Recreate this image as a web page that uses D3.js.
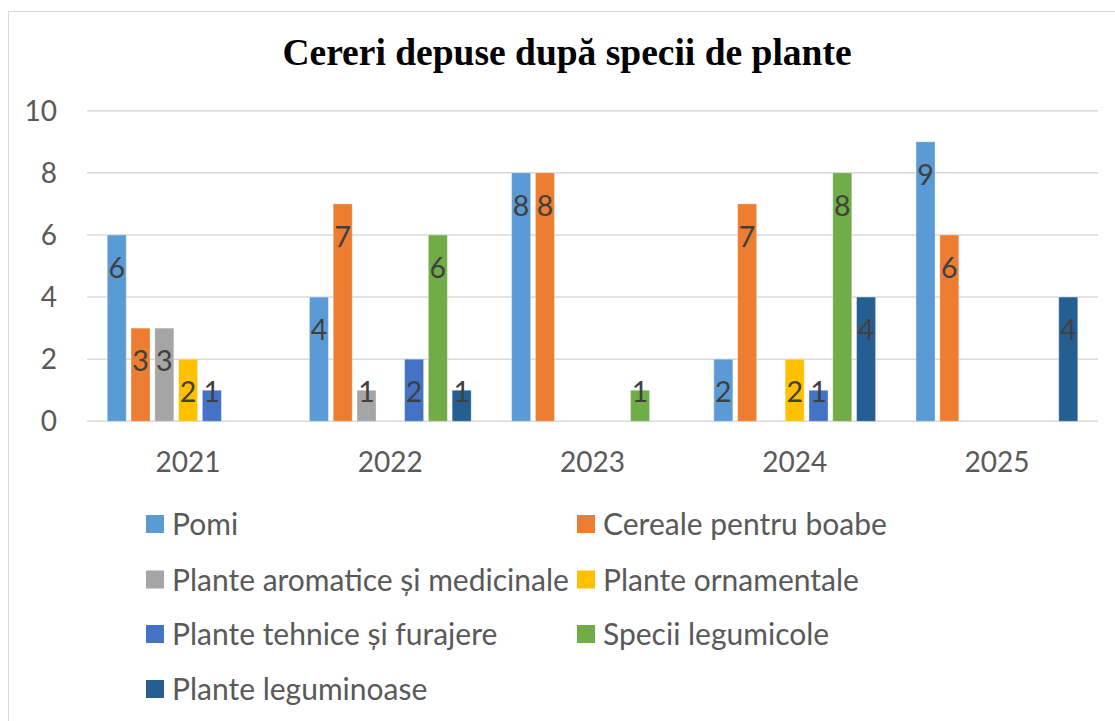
<!DOCTYPE html>
<html>
<head>
<meta charset="utf-8">
<script src="https://cdn.jsdelivr.net/npm/d3@7"></script>
<style>
  html, body { margin: 0; padding: 0; background: #ffffff; }
  svg { display: block; }
</style>
</head>
<body>
<svg id="chart" width="1115" height="721"></svg>
<script>
const title = "Cereri depuse după specii de plante";
const years = ["2021", "2022", "2023", "2024", "2025"];
const seriesNames = [
  "Pomi",
  "Cereale pentru boabe",
  "Plante aromatice și medicinale",
  "Plante ornamentale",
  "Plante tehnice și furajere",
  "Specii legumicole",
  "Plante leguminoase"
];
const seriesColors = ["#5B9BD5", "#ED7D31", "#A5A5A5", "#FFC000", "#4472C4", "#70AD47", "#255E91"];
const pomi        = [6, 4, 8, 2, 9];
const cereale     = [3, 7, 8, 7, 6];
const aromatice   = [3, 1, 0, 0, 0];
const ornamentale = [2, 0, 0, 2, 0];
const tehnice     = [1, 2, 0, 1, 0];
const legumicole  = [0, 6, 1, 8, 0];
const leguminoase = [0, 1, 0, 4, 4];
const yTicks = [0, 2, 4, 6, 8, 10];

const seriesValues = [pomi, cereale, aromatice, ornamentale, tehnice, legumicole, leguminoase];

const svg = d3.select("#chart");
const font = "Lato, 'Open Sans', sans-serif";

// chart border (extends beyond right/bottom edge as in reference)
svg.append("rect")
  .attr("x", 8.5).attr("y", 11.5)
  .attr("width", 1130).attr("height", 730)
  .attr("fill", "#ffffff")
  .attr("stroke", "#d9d9d9").attr("stroke-width", 1);

// title
svg.append("text")
  .attr("x", 567).attr("y", 65)
  .attr("text-anchor", "middle")
  .attr("font-family", "'Liberation Serif', 'Times New Roman', serif")
  .attr("font-weight", "bold")
  .attr("font-size", 37.5)
  .attr("fill", "#000000")
  .text(title);

const plot = { left: 87, right: 1098, top: 110.7, bottom: 421.3 };

const y = d3.scaleLinear().domain([0, 10]).range([plot.bottom, plot.top]);
const x0 = d3.scaleBand().domain(years).range([plot.left, plot.right]).padding(0);
const x1 = d3.scaleBand().domain(seriesNames).range([0, x0.bandwidth()])
  .paddingInner(0.2).paddingOuter(0.85);

// gridlines
svg.append("g").selectAll("line")
  .data(yTicks)
  .join("line")
  .attr("x1", plot.left).attr("x2", plot.right)
  .attr("y1", d => y(d)).attr("y2", d => y(d))
  .attr("stroke", "#d9d9d9").attr("stroke-width", 1.5);

// y axis labels
svg.append("g").selectAll("text")
  .data(yTicks)
  .join("text")
  .attr("x", 57).attr("y", d => y(d) + 10)
  .attr("text-anchor", "end")
  .attr("font-family", font).attr("font-size", 28)
  .attr("fill", "#595959")
  .text(d => d);

// x axis labels
svg.append("g").selectAll("text")
  .data(years)
  .join("text")
  .attr("x", d => x0(d) + x0.bandwidth() / 2)
  .attr("y", 472)
  .attr("text-anchor", "middle")
  .attr("font-family", font).attr("font-size", 28)
  .attr("fill", "#595959")
  .text(d => d);

// bars
const flat = [];
years.forEach((yr, i) => {
  seriesNames.forEach((s, j) => {
    const v = seriesValues[j][i];
    if (v > 0) flat.push({ year: yr, series: s, value: v, color: seriesColors[j] });
  });
});

svg.append("g").selectAll("rect")
  .data(flat)
  .join("rect")
  .attr("x", d => x0(d.year) + x1(d.series))
  .attr("y", d => y(d.value))
  .attr("width", x1.bandwidth())
  .attr("height", d => y(0) - y(d.value))
  .attr("fill", d => d.color)
  .attr("stroke", "#ffffff").attr("stroke-opacity", 0.35).attr("stroke-width", 1);

// data labels (inside end)
svg.append("g").selectAll("text")
  .data(flat)
  .join("text")
  .attr("x", d => x0(d.year) + x1(d.series) + x1.bandwidth() / 2)
  .attr("y", d => Math.min(y(d.value) + 33, y(0) - 29) + 10)
  .attr("text-anchor", "middle")
  .attr("font-family", font).attr("font-size", 28.5)
  .attr("fill", "#404040")
  .text(d => d.value);

// legend
const legendCols = [146, 577];
const legendRows = [524, 579.5, 634, 689];
const legend = svg.append("g").selectAll("g")
  .data(seriesNames)
  .join("g")
  .attr("transform", (d, i) => `translate(${legendCols[i % 2]},${legendRows[Math.floor(i / 2)]})`);
legend.append("rect")
  .attr("x", 0).attr("y", -9)
  .attr("width", 18).attr("height", 18)
  .attr("fill", (d, i) => seriesColors[i]);
legend.append("text")
  .attr("x", 26).attr("y", 11)
  .attr("font-family", font).attr("font-size", 30)
  .attr("fill", "#595959")
  .text(d => d);
</script>
</body>
</html>
